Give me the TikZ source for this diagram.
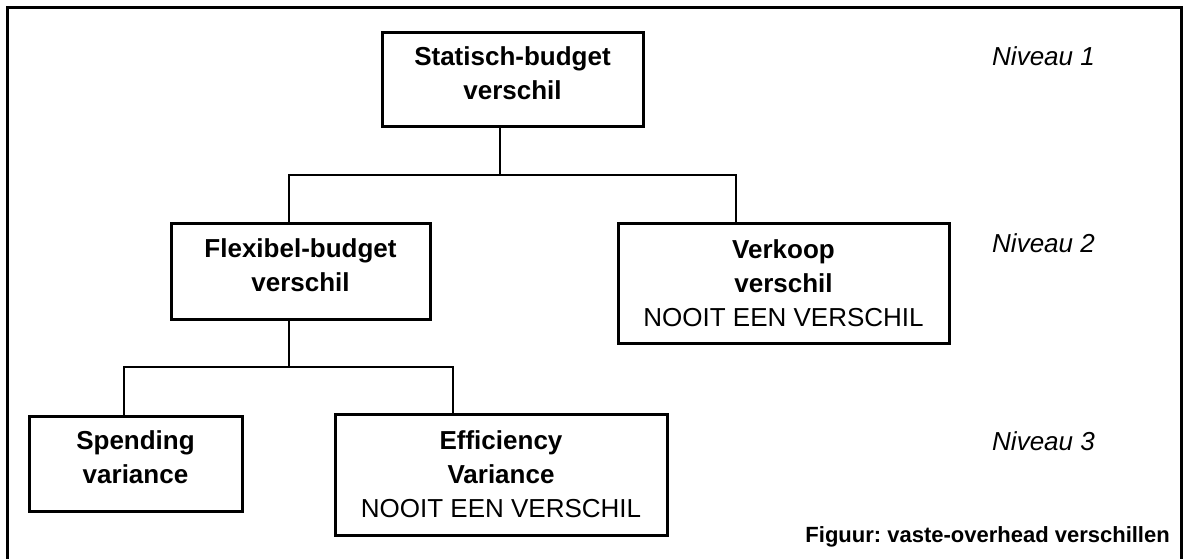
\documentclass[tikz,border=0pt]{standalone}
\usepackage{fontspec}
\setmainfont{Liberation Sans}
\frenchspacing
\begin{document}
\begin{tikzpicture}[x=1pt,y=-1pt,
  txt/.style={font=\fontsize{26}{34}\selectfont},
  varbox/.style={txt,draw,line width=3pt,inner sep=0pt,align=center},
  link/.style={line width=2.3pt},
  level/.style={font=\fontsize{26}{34}\selectfont\itshape,anchor=base west,inner sep=0pt},
  caption/.style={font=\fontsize{22}{28}\selectfont\bfseries,anchor=base east,inner sep=0pt}]
\newcommand{\lowpad}{\rule[-12pt]{0pt}{12pt}}
\useasboundingbox (0,0) rectangle (1183,558);
\clip (0,0) rectangle (1183,558);
\fill[white] (0,0) rectangle (1183,558);
% outer frame, open at the bottom
\draw[line width=3pt] (7,570) -- (7,7) -- (1181,7) -- (1181,570);

% level 1
\node[varbox,minimum width=261pt,minimum height=94pt] (stat) at (512.5,79)
  {\textbf{Statisch-budget}\\\textbf{verschil}\lowpad};
% level 2
\node[varbox,minimum width=259pt,minimum height=96pt] (flex) at (300.5,271)
  {\textbf{Flexibel-budget}\\\textbf{verschil}\lowpad};
\node[varbox,minimum width=331pt,minimum height=120pt] (verk) at (783.5,283)
  {\textbf{Verkoop}\\\textbf{verschil}\\NOOIT EEN VERSCHIL};
% level 3
\node[varbox,minimum width=213pt,minimum height=95pt] (spend) at (135.5,463.5)
  {\textbf{Spending}\\\textbf{variance}\lowpad};
\node[varbox,minimum width=332pt,minimum height=121pt] (eff) at (501,474.5)
  {\textbf{Efficiency}\\\textbf{Variance}\\NOOIT EEN VERSCHIL};

% junctions of the tree
\coordinate (j1) at (500,175);
\coordinate (j2) at (289,367);

\draw[link] (stat.south -| j1) -- (j1);
\draw[link] (flex.north -| 289,0) |- (j1) -| (verk.north -| 736,0);
\draw[link] (flex.south -| j2) -- (j2);
\draw[link] (spend.north -| 124,0) |- (j2) -| (eff.north -| 453,0);

% level labels
\node[level] (n1) at (992,65) {Niveau 1};
\node[level] (n2) at (992,252) {Niveau 2};
\node[level] (n3) at (992,450) {Niveau 3};

\node[caption] (cap) at (1170,542) {Figuur: vaste-overhead verschillen};
\end{tikzpicture}
\end{document}
